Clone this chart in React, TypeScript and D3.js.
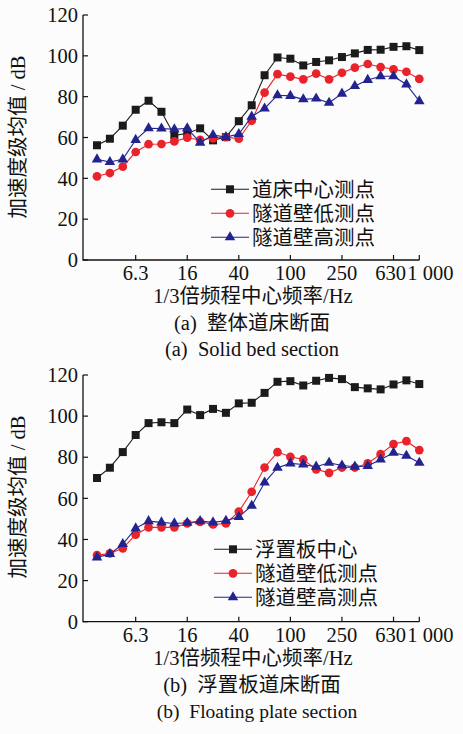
import React from 'react';
import * as d3 from 'd3';

// 1/3 octave band centre frequencies, Hz
const bands = ['3.15', '4', '5', '6.3', '8', '10', '12.5', '16', '20', '25', '31.5', '40', '50', '63', '80', '100', '125', '160', '200', '250', '315', '400', '500', '630', '800', '1000'];
const tickBands = ['6.3', '16', '40', '100', '250', '630', '1000'];
const tickText = ['6.3', '16', '40', '100', '250', '630', '1 000'];
const yTicks = [0, 20, 40, 60, 80, 100, 120];

// (a) solid bed section
const solidCenter = [56.2, 59.4, 65.8, 73.6, 78, 72.6, 61, 62, 64.5, 58.6, 60.2, 68, 75.8, 90.5, 99.2, 98.6, 95.3, 97, 97.8, 99.4, 101.2, 102.9, 103, 104.4, 104.7, 102.8];
const solidWallLow = [41, 42.6, 45.7, 52.9, 56.7, 56.8, 58.1, 59.9, 58.8, 59.6, 60.2, 59.4, 68.2, 82, 91, 89.8, 88.5, 91.3, 88.5, 91.7, 94.2, 96, 94.5, 93.4, 92.2, 88.7];
const solidWallHigh = [49.3, 48, 49.3, 58.8, 64.5, 64.4, 64, 64.5, 57.5, 61.2, 60.2, 61.7, 70.2, 74.2, 80.7, 80.4, 78.7, 79.1, 77, 81.5, 85.2, 88.2, 90, 90, 86, 77.8];

// (b) floating plate section
const floatCenter = [69.9, 74.9, 82.5, 90.8, 96.6, 97, 96.6, 103.2, 100.5, 103.5, 101.6, 106.2, 106.5, 111.3, 116.7, 117, 114.9, 117.2, 118.6, 118, 114.1, 113.5, 113, 115.4, 117.4, 115.6];
const floatWallLow = [32.4, 33.2, 35.7, 42.3, 45.9, 45.9, 45.9, 47.8, 48.6, 47.3, 47.8, 53.5, 63.2, 75, 82.5, 80.2, 78.9, 74.1, 72.4, 75, 75, 77, 81.5, 86.4, 87.8, 83.5];
const floatWallHigh = [31.3, 32.9, 37.8, 45.4, 48.9, 48.3, 47.8, 48.1, 48.9, 48.3, 49.1, 51, 56.4, 67.7, 74.9, 77, 76.5, 75.4, 77.3, 76, 75.4, 75.7, 78.9, 82.2, 80.7, 77.3];

const BLACK = '#1b1b1b';
const RED = '#e8232b';
const BLUE = '#23238f';
const FONT = "'Liberation Serif', 'Times New Roman', 'Noto Sans CJK SC', serif";

type Series = { name: string; values: number[]; color: string; shape: d3.SymbolType; size: number };

const x = d3.scalePoint<string>().domain(bands).range([97, 419.3]);

function Panel({ top, bottom, series, legendX, legendY, caption, captionEn, enX, enSize, ylabelY }: {
  top: number; bottom: number; series: Series[]; legendX: number; legendY: number;
  caption: string; captionEn: string; enX: number; enSize: number; ylabelY: number;
}) {
  const y = d3.scaleLinear().domain([0, 120]).range([bottom, top]);
  const axisX = 83;
  const line = d3.line<number>().x((_, i) => x(bands[i])!).y(v => y(v));
  return (
    <g>
      {/* axes */}
      <path d={`M${axisX},${top}V${bottom}H${x('1000')}`} fill="none" stroke="#111" strokeWidth={1.3} />
      {yTicks.map(t => (
        <g key={t}>
          <line x1={axisX} x2={axisX + 5} y1={y(t)} y2={y(t)} stroke="#111" strokeWidth={1.2} />
          <text x={78} y={y(t)} dy="0.35em" textAnchor="end" fontSize={20.5} fontFamily={FONT} fill="#111">{t}</text>
        </g>
      ))}
      {tickBands.map((b, i) => {
        const last = i === tickBands.length - 1;
        return (
          <g key={b}>
            <line x1={x(b)} x2={x(b)} y1={bottom} y2={bottom - 5} stroke="#111" strokeWidth={1.2} />
            <text x={last ? x(b)! - 12 : x(b)! - (b === '630' ? 3 : 0)} y={bottom + 20} textAnchor={last ? 'start' : 'middle'}
              fontSize={20.5} fontFamily={FONT} fill="#111" style={{ whiteSpace: 'pre' }}>{tickText[i]}</text>
          </g>
        );
      })}
      <text transform={`translate(17.5,${ylabelY}) rotate(-90)`} dy="0.35em" textAnchor="middle" fontSize={20.5} fontFamily={FONT} fill="#111">加速度级均值 / dB</text>
      <text x={253} y={bottom + 43} textAnchor="middle" fontSize={20.5} fontFamily={FONT} fill="#111">1/3倍频程中心频率/Hz</text>
      <text x={252} y={bottom + 70} textAnchor="middle" fontSize={20.5} fontFamily={FONT} fill="#111" style={{ whiteSpace: 'pre' }}>{caption}</text>
      <text x={enX} y={bottom + 96} textAnchor="middle" fontSize={enSize} fontFamily={FONT} fill="#111" style={{ whiteSpace: 'pre' }}>{captionEn}</text>

      {/* series */}
      {series.map(s => (
        <g key={s.name}>
          <path d={line(s.values)!} fill="none" stroke={s.color} strokeWidth={1.1} />
          {s.values.map((v, i) => (
            <path key={i} transform={`translate(${x(bands[i])},${y(v)})`} d={d3.symbol(s.shape, s.size)()!} fill={s.color} />
          ))}
        </g>
      ))}

      {/* legend */}
      {series.map((s, i) => {
        const ly = legendY + i * 24;
        return (
          <g key={'lg' + s.name}>
            <line x1={legendX} x2={legendX + 38} y1={ly} y2={ly} stroke={s.color} strokeWidth={1.1} />
            <path transform={`translate(${legendX + 19},${ly})`} d={d3.symbol(s.shape, s.size)()!} fill={s.color} />
            <text x={legendX + 41} y={ly} dy="0.36em" fontSize={20.5} fontFamily={FONT} fill="#111">{s.name}</text>
          </g>
        );
      })}
    </g>
  );
}

export default function App() {
  const sq = d3.symbolSquare, ci = d3.symbolCircle, tr = d3.symbolTriangle;
  const top: Series[] = [
    { name: '道床中心测点', values: solidCenter, color: BLACK, shape: sq, size: 64 },
    { name: '隧道壁低测点', values: solidWallLow, color: RED, shape: ci, size: 60 },
    { name: '隧道壁高测点', values: solidWallHigh, color: BLUE, shape: tr, size: 48 },
  ];
  const bot: Series[] = [
    { name: '浮置板中心', values: floatCenter, color: BLACK, shape: sq, size: 64 },
    { name: '隧道壁低测点', values: floatWallLow, color: RED, shape: ci, size: 60 },
    { name: '隧道壁高测点', values: floatWallHigh, color: BLUE, shape: tr, size: 48 },
  ];
  return (
    <svg width={463} height={734} style={{ position: 'absolute', left: 0, top: 0 }}>
      <rect width={463} height={734} fill="#fcfcfc" />
      <Panel top={15} bottom={260} series={top} legendX={211} legendY={189.3}
        caption="(a)  整体道床断面" captionEn="(a)  Solid bed section" enX={252} enSize={20.5} ylabelY={137} />
      <Panel top={375} bottom={621.7} series={bot} legendX={214} legendY={549.3}
        caption="(b)  浮置板道床断面" captionEn="(b)  Floating plate section" enX={257} enSize={19.5} ylabelY={497} />
    </svg>
  );
}
